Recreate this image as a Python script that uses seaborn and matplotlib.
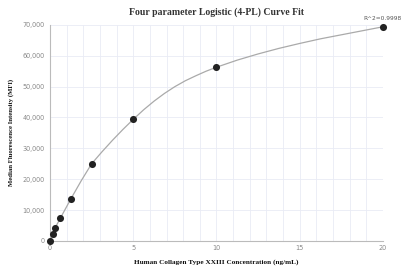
import numpy as np
import pandas as pd
import matplotlib
matplotlib.use('Agg')
import matplotlib.pyplot as plt
import seaborn as sns
from matplotlib.ticker import FuncFormatter, MultipleLocator

# Standard points (concentration in ng/mL, MFI)
conc = [0, 0.156, 0.3125, 0.625, 1.25, 2.5, 5, 10, 20]
mfi = [0, 2300, 4300, 7400, 13600, 25000, 39400, 56300, 69400]

# Fitted curve, values
curve_x = [0, 0.156, 0.3125, 0.625, 1.25, 1.875, 2.5, 3.125, 3.75, 4.375, 5,
           5.625, 6.25, 6.875, 7.5, 8.125, 8.75, 9.375, 10,
           11.25, 12.5, 13.75, 15, 16.25, 17.5, 18.75, 20]
curve_y = [0, 2300, 4300, 7400, 13600, 19500, 25000, 28900, 32600, 36100, 39400,
           42500, 45300, 47800, 50000, 51900, 53500, 55000, 56300,
           58600, 60600, 62400, 64000, 65500, 66800, 68100, 69400]

r2_label = 'R^2=0.9998'

points = pd.DataFrame({'conc': conc, 'mfi': mfi})
curve = pd.DataFrame({'x': curve_x, 'y': curve_y})

sns.set_style('white')
fig = plt.figure(figsize=(4.01, 2.71), dpi=100)
ax = fig.add_axes([0.1247, 0.111, 0.8303, 0.797])

sns.lineplot(data=curve, x='x', y='y', ax=ax, color='#aaaaaa', linewidth=0.9)
sns.scatterplot(data=points, x='conc', y='mfi', ax=ax, color='#222222',
                s=26, edgecolor='#222222', linewidth=0, zorder=5, clip_on=False)

ax.set_xlim(0, 20)
ax.set_ylim(0, 70000)
ax.xaxis.set_major_locator(MultipleLocator(5))
ax.xaxis.set_minor_locator(MultipleLocator(1))
ax.yaxis.set_major_locator(MultipleLocator(10000))
ax.yaxis.set_major_formatter(FuncFormatter(lambda v, p: f'{int(v):,}'))

ax.grid(True, which='both', axis='x', color='#e9ebf5', linewidth=0.6)
ax.grid(True, which='major', axis='y', color='#e9ebf5', linewidth=0.6)
ax.set_axisbelow(True)

for side in ['top', 'right']:
    ax.spines[side].set_visible(False)
for side in ['left', 'bottom']:
    ax.spines[side].set_color('#bbbbbb')
    ax.spines[side].set_linewidth(0.8)

ax.tick_params(axis='y', which='major', length=2.5, width=0.6, color='#bbbbbb',
               labelsize=4.7, labelcolor='#888888', pad=1.5)
ax.tick_params(axis='x', which='both', length=0, labelsize=4.7,
               labelcolor='#888888', pad=3)

ax.set_title('Four parameter Logistic (4-PL) Curve Fit', fontsize=7,
             fontweight='bold', family='Liberation Serif', color='#333333', pad=7)
ax.set_xlabel('Human Collagen Type XXIII Concentration (ng/mL)', fontsize=5.2,
              fontweight='bold', family='Liberation Serif', color='#111111', labelpad=6)
ax.set_ylabel('Median Fluorescence Intensity (MFI)', fontsize=4.9,
              fontweight='bold', family='Liberation Serif', color='#111111', labelpad=6)

ax.annotate(r2_label, xy=(conc[-1], mfi[-1]), xytext=(0, 4),
            textcoords='offset points', ha='center', va='bottom',
            fontsize=4.2, color='#555555')

fig.savefig('out.png', dpi=100)
